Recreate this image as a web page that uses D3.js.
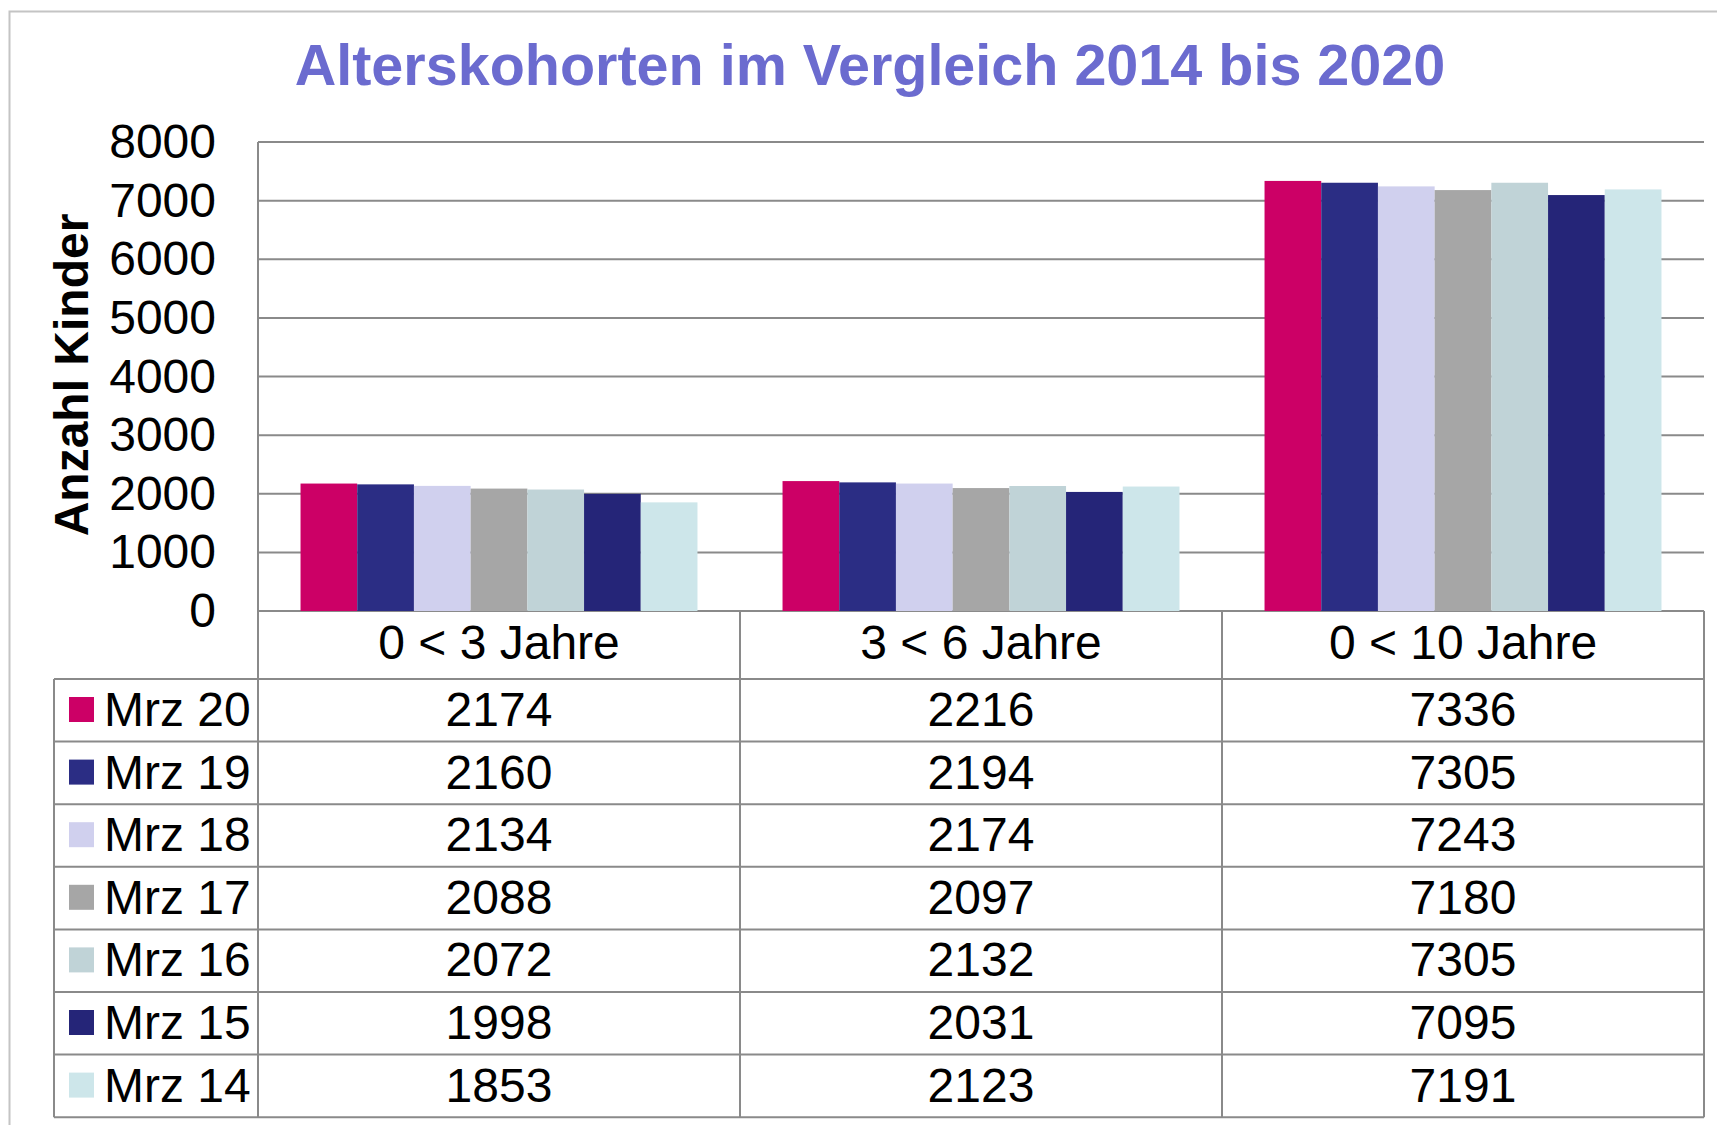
<!DOCTYPE html>
<html>
<head>
<meta charset="utf-8">
<script src="https://cdn.jsdelivr.net/npm/d3@7"></script>
<style>
  body { margin:0; background:#fff; }
  svg { display:block; font-family:"Liberation Sans", Arial, sans-serif; }
</style>
</head>
<body>
<div id="canvas"></div>
<script>
// categories, series and values
var categories = ['0 < 3 Jahre', '3 < 6 Jahre', '0 < 10 Jahre'];
var series = ['Mrz 20', 'Mrz 19', 'Mrz 18', 'Mrz 17', 'Mrz 16', 'Mrz 15', 'Mrz 14'];
var colors = ['#cc0066', '#2b2d84', '#d0d0ee', '#a6a6a6', '#c0d3d7', '#252578', '#cde6ea'];
var values = [
  [2174, 2216, 7336],
  [2160, 2194, 7305],
  [2134, 2174, 7243],
  [2088, 2097, 7180],
  [2072, 2132, 7305],
  [1998, 2031, 7095],
  [1853, 2123, 7191]
];
var yTicks = [0, 1000, 2000, 3000, 4000, 5000, 6000, 7000, 8000];

var W = 1717, H = 1125;
var m = {l:258, r:13, t:142};
var plotBottom = 611;
var headerH = 68, rowH = 62.6;
var legendLeft = 54;
var grid = '#8a8a8a';

var svg = d3.select('#canvas').append('svg')
  .attr('width', W).attr('height', H);

// outer frame
svg.append('rect')
  .attr('x', 9.5).attr('y', 11.5)
  .attr('width', W + 20).attr('height', H + 20)
  .attr('fill', 'none').attr('stroke', '#c4c4c4').attr('stroke-width', 2);

// title
svg.append('text')
  .attr('x', 870).attr('y', 85)
  .attr('text-anchor', 'middle')
  .style('font-size', '57.5px').style('font-weight', 'bold')
  .attr('fill', '#6b6bcf')
  .text('Alterskohorten im Vergleich 2014 bis 2020');

var x0 = d3.scaleBand().domain(categories).range([m.l, W - m.r]).paddingInner(0);
var x1 = d3.scaleBand().domain(series).range([0, x0.bandwidth()]).paddingInner(0).paddingOuter(0.75);
var y = d3.scaleLinear().domain([0, 8000]).range([plotBottom, m.t]);

// gridlines
svg.append('g').selectAll('line').data(yTicks).enter().append('line')
  .attr('x1', m.l).attr('x2', W - m.r)
  .attr('y1', function(d){ return y(d); }).attr('y2', function(d){ return y(d); })
  .attr('stroke', grid).attr('stroke-width', 2);

// y tick labels
svg.append('g').selectAll('text').data(yTicks).enter().append('text')
  .attr('x', 216).attr('y', function(d){ return y(d) + 16; })
  .attr('text-anchor', 'end')
  .style('font-size', '48px')
  .text(function(d){ return d; });

// y axis title
svg.append('text')
  .attr('transform', 'translate(88,375) rotate(-90)')
  .attr('text-anchor', 'middle')
  .style('font-size', '48px').style('font-weight', 'bold')
  .text('Anzahl Kinder');

// bars
series.forEach(function(s, i){
  svg.append('g').selectAll('rect').data(values[i]).enter().append('rect')
    .attr('x', function(d, j){ return x0(categories[j]) + x1(s); })
    .attr('width', x1.bandwidth())
    .attr('y', function(d){ return y(d); })
    .attr('height', function(d){ return plotBottom - y(d); })
    .attr('fill', colors[i]);
});

// data table
var tableBottom = plotBottom + headerH + rowH * series.length;
var tbl = svg.append('g');

// horizontal lines
var hLines = [plotBottom + headerH];
series.forEach(function(s, i){ hLines.push(plotBottom + headerH + rowH * (i + 1)); });
tbl.selectAll('line.h').data(hLines).enter().append('line')
  .attr('x1', legendLeft).attr('x2', W - m.r)
  .attr('y1', function(d){ return d; }).attr('y2', function(d){ return d; })
  .attr('stroke', grid).attr('stroke-width', 2);

// vertical lines
var vLines = categories.map(function(c){ return x0(c) + x0.bandwidth(); });
tbl.selectAll('line.v').data(vLines).enter().append('line')
  .attr('x1', function(d){ return d; }).attr('x2', function(d){ return d; })
  .attr('y1', plotBottom).attr('y2', tableBottom)
  .attr('stroke', grid).attr('stroke-width', 2);

// axis line, continuing down through the table
tbl.append('line')
  .attr('x1', m.l).attr('x2', m.l).attr('y1', m.t).attr('y2', tableBottom)
  .attr('stroke', grid).attr('stroke-width', 2);
tbl.append('line')
  .attr('x1', legendLeft).attr('x2', legendLeft)
  .attr('y1', plotBottom + headerH).attr('y2', tableBottom)
  .attr('stroke', grid).attr('stroke-width', 2);

// header
tbl.selectAll('text.cat').data(categories).enter().append('text')
  .attr('x', function(d){ return x0(d) + x0.bandwidth() / 2; })
  .attr('y', plotBottom + 48)
  .attr('text-anchor', 'middle')
  .style('font-size', '48px')
  .text(function(d){ return d; });

// rows
series.forEach(function(s, i){
  var top = plotBottom + headerH + rowH * i;
  tbl.append('rect')
    .attr('x', 69).attr('y', top + 18).attr('width', 25).attr('height', 25)
    .attr('fill', colors[i]);
  tbl.append('text')
    .attr('x', 104).attr('y', top + 47)
    .style('font-size', '48px')
    .text(s);
  tbl.append('g').selectAll('text').data(values[i]).enter().append('text')
    .attr('x', function(d, j){ return x0(categories[j]) + x0.bandwidth() / 2; })
    .attr('y', top + 47)
    .attr('text-anchor', 'middle')
    .style('font-size', '48px')
    .text(function(d){ return d; });
});
</script>
</body>
</html>
